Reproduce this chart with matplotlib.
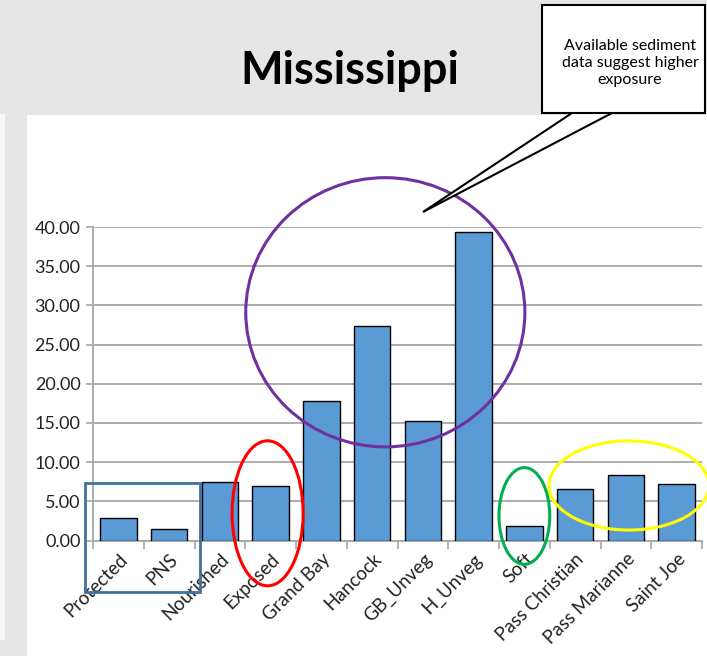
import matplotlib.pyplot as plt
import numpy as np
from matplotlib.patches import Ellipse, Rectangle, Polygon

# data
sites = ["Protected", "PNS", "Nourished", "Exposed", "Grand Bay", "Hancock",
         "GB_Unveg", "H_Unveg", "Soft", "Pass Christian", "Pass Marianne", "Saint Joe"]
values = [2.9, 1.5, 7.5, 6.9, 17.85, 27.4, 15.2, 39.4, 1.9, 6.6, 8.4, 7.2]
yticks = [0, 5, 10, 15, 20, 25, 30, 35, 40]

plt.rcParams["font.family"] = ["Lato", "DejaVu Sans"]

W, H = 707, 656
fig = plt.figure(figsize=(W / 100, H / 100), dpi=100, facecolor="#e6e6e6")

# slide background: white panel under the chart
fig.patches.append(Rectangle((27 / W, 0), 1 - 27 / W, 1 - 115 / H, transform=fig.transFigure,
                             facecolor="white", edgecolor="none", zorder=-2))
fig.patches.append(Rectangle((0, 16 / H), 5 / W, 1 - 130 / H, transform=fig.transFigure,
                             facecolor="#f7f7f7", edgecolor="none", zorder=-2))

ax = fig.add_axes([93 / W, 1 - 540.5 / H, (702 - 93) / W, (540.5 - 227) / H])
ax.set_facecolor("none")

x = np.arange(len(sites))
ax.bar(x, values, width=0.72, color="#5b9bd5", edgecolor="black", linewidth=1, zorder=3)

ax.set_xlim(-0.5, len(sites) - 0.5)
ax.set_ylim(0, 40)
ax.set_yticks(yticks)
ax.set_yticklabels([f"{v:.2f}" for v in yticks], fontsize=13, color="#222222")
ax.grid(axis="y", color="#a6a6a6", linewidth=1.3, zorder=0)

# category ticks sit between the bars, labels under the centres
ax.set_xticks(np.arange(len(sites) + 1) - 0.5)
ax.set_xticklabels([])
ax.set_xticks(x, minor=True)
ax.set_xticklabels(sites, minor=True, rotation=45, ha="right", rotation_mode="anchor",
                   fontsize=13.5, color="#222222")
ax.tick_params(axis="x", which="major", length=6, color="#a6a6a6", width=1.2)
ax.tick_params(axis="x", which="minor", length=0, pad=7)
ax.tick_params(axis="y", length=5, color="#a6a6a6", width=1.2, pad=4)

for s in ["top", "right"]:
    ax.spines[s].set_visible(False)
for s in ["left", "bottom"]:
    ax.spines[s].set_color("#a6a6a6")
    ax.spines[s].set_linewidth(1.3)

# highlight shapes
ax.add_patch(Rectangle((-0.65, -6.58), 2.25, 13.92, fill=False, edgecolor="#41719c",
                       linewidth=2, clip_on=False, zorder=5))
ax.add_patch(Ellipse((2.94, 3.47), 1.40, 18.5, fill=False, edgecolor="#ff0000",
                     linewidth=2.2, clip_on=False, zorder=5))
ax.add_patch(Ellipse((5.26, 29.12), 5.50, 34.35, fill=False, edgecolor="#7030a0",
                     linewidth=2.2, clip_on=False, zorder=5))
ax.add_patch(Ellipse((8.0, 3.13), 1.0, 12.34, fill=False, edgecolor="#00b050",
                     linewidth=2.2, clip_on=False, zorder=5))
ax.add_patch(Ellipse((10.06, 7.02), 3.15, 11.37, fill=False, edgecolor="#ffff00",
                     linewidth=2.2, clip_on=False, zorder=5))

fig.text(350 / W, 1 - 71 / H, "Mississippi", ha="center", va="center",
         fontsize=32.5, fontweight="bold", color="black")

# callout box with pointer
fig.patches.append(Polygon([(572 / W, 1 - 113 / H), (423 / W, 1 - 212 / H), (612 / W, 1 - 113 / H)],
                           closed=False, transform=fig.transFigure, facecolor="white",
                           edgecolor="black", linewidth=1.5, zorder=6))
fig.patches.append(Rectangle((542 / W, 1 - 113 / H), 163 / W, 108 / H, transform=fig.transFigure,
                             facecolor="white", edgecolor="black", linewidth=1.5, zorder=7))
fig.text(630 / W, 1 - 63 / H, "Available sediment\ndata suggest higher\nexposure",
         ha="center", va="center", fontsize=11.5, linespacing=1.25, zorder=8)

fig.savefig("out.png", dpi=100, facecolor=fig.get_facecolor())
